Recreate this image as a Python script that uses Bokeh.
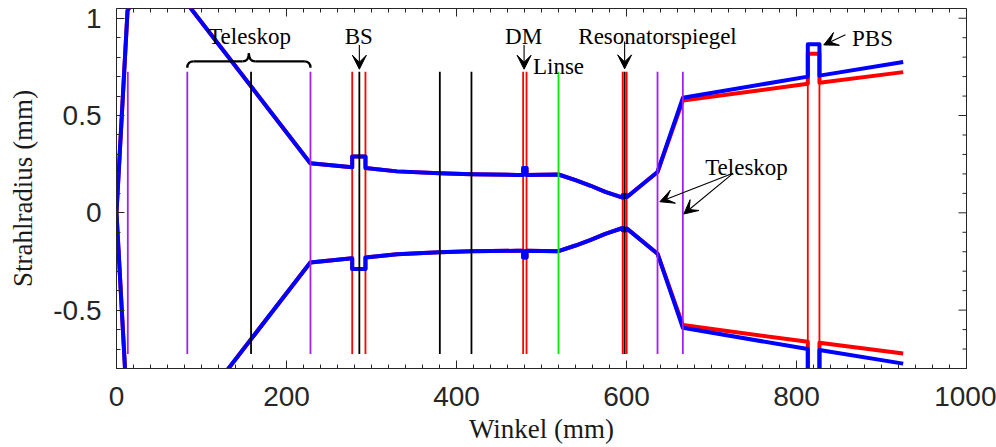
import numpy as np
from bokeh.plotting import figure
from bokeh.models import (Range1d, SingleIntervalTicker, NumeralTickFormatter,
                          Arrow, VeeHead, Label)
from bokeh.embed import file_html
from bokeh.resources import INLINE

# Positions along the optical path (mm)
z = [0, 13, 48, 84, 228, 277.3, 277.3, 292.9, 292.9, 330, 380, 417, 471,
     478.4, 478.4, 482.4, 482.4, 520, 540, 558, 575, 595.5, 595.5, 600.2, 600.2,
     636.5, 666.3, 813.3, 813.3, 827.0, 827.0, 925.5]

# Beam radius, first transverse axis (mm)
w_blue = [0, 1.04, 1.3, 1.07, 0.255, 0.234, 0.289, 0.289, 0.230, 0.213, 0.203, 0.198, 0.195,
          0.195, 0.23, 0.23, 0.195, 0.197, 0.168, 0.139, 0.108, 0.078, 0.09, 0.09, 0.08,
          0.21, 0.591, 0.70, 0.866, 0.866, 0.705, 0.775]

# Beam radius, second transverse axis (mm)
w_red = [0, 1.04, 1.3, 1.07, 0.255, 0.234, 0.289, 0.289, 0.230, 0.213, 0.203, 0.198, 0.195,
         0.195, 0.23, 0.23, 0.195, 0.197, 0.168, 0.139, 0.108, 0.078, 0.09, 0.09, 0.08,
         0.21, 0.577, 0.663, 0.818, 0.818, 0.668, 0.723]

# Optical elements: position (mm) and type
elem_x = [13.3, 83.3, 158.3, 228.2, 277.3, 285.7, 292.9, 380.4, 417.6, 478.4, 482.4,
          520.0, 595.5, 597.8, 600.2, 636.5, 666.3, 813.3, 827.0]
elem_kind = ["lens", "lens", "plane", "lens", "surface", "plane", "surface", "plane", "plane",
             "surface", "surface", "focus", "surface", "plane", "surface", "lens", "lens",
             "surface", "surface"]
elem_half = 0.725

kind_color = {"lens": "#A71DF2", "plane": "#000000", "surface": "#FF0000", "focus": "#00EE00"}

x_lo, x_hi = 0, 1000
y_lo, y_hi = -0.8, 1.05
x_major, x_minor = 200, 20
y_major, y_minor = 0.5, 0.1

AXIS_GRAY = "#262626"
SERIF = "Liberation Serif"
SANS = "Liberation Sans"

p = figure(width=996, height=447, output_backend="svg", toolbar_location=None,
           x_range=Range1d(x_lo, x_hi), y_range=Range1d(y_lo, y_hi),
           min_border_left=116, min_border_right=30, min_border_top=8, min_border_bottom=79,
           background_fill_color="white", border_fill_color="white")
p.grid.visible = False
p.outline_line_color = AXIS_GRAY
p.outline_line_width = 1

for ax in (p.xaxis[0], p.yaxis[0]):
    ax.axis_line_color = AXIS_GRAY
    ax.major_tick_line_color = AXIS_GRAY
    ax.minor_tick_line_color = AXIS_GRAY
    ax.major_tick_in = 8
    ax.major_tick_out = 0
    ax.minor_tick_in = 4
    ax.minor_tick_out = 0
    ax.major_label_text_font = SANS
    ax.major_label_text_font_size = "28px"
    ax.major_label_text_color = AXIS_GRAY
    ax.axis_label_text_font = SERIF
    ax.axis_label_text_font_size = "27px"
    ax.axis_label_text_font_style = "normal"
    ax.axis_label_text_color = "#1a1a1a"

p.xaxis.ticker = SingleIntervalTicker(interval=x_major, num_minor_ticks=int(x_major / x_minor))
p.yaxis.ticker = SingleIntervalTicker(interval=y_major, num_minor_ticks=int(round(y_major / y_minor)))
p.yaxis.formatter = NumeralTickFormatter(format="0.[0]")
p.xaxis.major_label_standoff = 18
p.yaxis.major_label_standoff = 15

p.xaxis.axis_label = "Winkel (mm)"
p.xaxis.axis_label_standoff = 5
p.yaxis.axis_label = "Strahlradius (mm)"
p.yaxis.axis_label_standoff = 12

# mirrored ticks on the top and right frame edges
xt = np.arange(x_lo, x_hi + 1e-9, x_minor)
xt_len = np.where(np.isclose(np.mod(xt, x_major), 0), 8, 4)
p.ray(x=xt, y=y_hi, length=xt_len, length_units="screen", angle=-90, angle_units="deg",
      line_color=AXIS_GRAY, line_width=1)
yt = np.round(np.arange(-0.7, y_hi, y_minor), 3)
ym = np.mod(np.round(yt / y_minor).astype(int), int(round(y_major / y_minor))) == 0
yt_len = np.where(ym, 8, 4)
p.ray(x=x_hi, y=yt, length=yt_len, length_units="screen", angle=180, angle_units="deg",
      line_color=AXIS_GRAY, line_width=1)

ex = np.array(elem_x)
ecol = np.array([kind_color[k] for k in elem_kind])
is_surface = np.array([k == "surface" for k in elem_kind])

# reflective / refractive surfaces underneath the beam
p.segment(x0=ex[is_surface], y0=-elem_half, x1=ex[is_surface], y1=elem_half,
          line_color=list(ecol[is_surface]), line_width=1.8)

zz = np.array(z)
wb = np.array(w_blue)
wr = np.array(w_red)
for sign in (1, -1):
    p.line(zz, sign * wr, line_color="#FF0000", line_width=4, line_join="round")
for sign in (1, -1):
    p.line(zz, sign * wb, line_color="#0000FF", line_width=4, line_join="round")

# lenses, planes and focus drawn on top of the beam
p.segment(x0=ex[~is_surface], y0=-elem_half, x1=ex[~is_surface], y1=elem_half,
          line_color=list(ecol[~is_surface]), line_width=1.8)

# curly brace over the first telescope
bx0, bx1 = elem_x[1], elem_x[3]
bxc = 0.5 * (bx0 + bx1)
b_end, b_mid, b_tip, b_d = 0.745, 0.778, 0.82, 7.5
p.quadratic(x0=[bx0, bx1], y0=[b_end, b_end], x1=[bx0 + b_d, bx1 - b_d], y1=[b_mid, b_mid],
            cx=[bx0, bx1], cy=[b_mid, b_mid], line_color="black", line_width=2.3)
p.segment(x0=[bx0 + b_d, bxc + b_d], y0=[b_mid, b_mid], x1=[bxc - b_d, bx1 - b_d],
          y1=[b_mid, b_mid], line_color="black", line_width=2.3)
p.quadratic(x0=[bxc - b_d, bxc + b_d], y0=[b_mid, b_mid], x1=[bxc, bxc], y1=[b_tip, b_tip],
            cx=[bxc, bxc], cy=[b_mid, b_mid], line_color="black", line_width=2.3)


def label(x, y, text):
    p.add_layout(Label(x=x, y=y, text=text, text_font=SERIF, text_font_size="23px",
                       text_color="black", text_align="center", text_baseline="alphabetic"))


def arrow(x0, y0, x1, y1):
    p.add_layout(Arrow(end=VeeHead(size=14, fill_color="black", line_color="black",
                                   line_width=1),
                       x_start=x0, y_start=y0, x_end=x1, y_end=y1,
                       line_color="black", line_width=1.1))


label(156.5, 0.905, "Teleskop")
label(285.1, 0.905, "BS")
arrow(285.7, 0.862, 285.7, 0.738)
label(479.0, 0.905, "DM")
arrow(479.5, 0.862, 479.5, 0.738)
label(520.0, 0.752, "Linse")
label(636.5, 0.907, "Resonatorspiegel")
arrow(597.8, 0.88, 597.8, 0.74)
label(889.4, 0.898, "PBS")
arrow(857.6, 0.915, 832.1, 0.863)
label(741.2, 0.233, "Teleskop")
arrow(725.3, 0.203, 639.2, 0.057)
arrow(725.3, 0.203, 667.4, -0.006)

open("out.html", "w").write(file_html(p, INLINE))
